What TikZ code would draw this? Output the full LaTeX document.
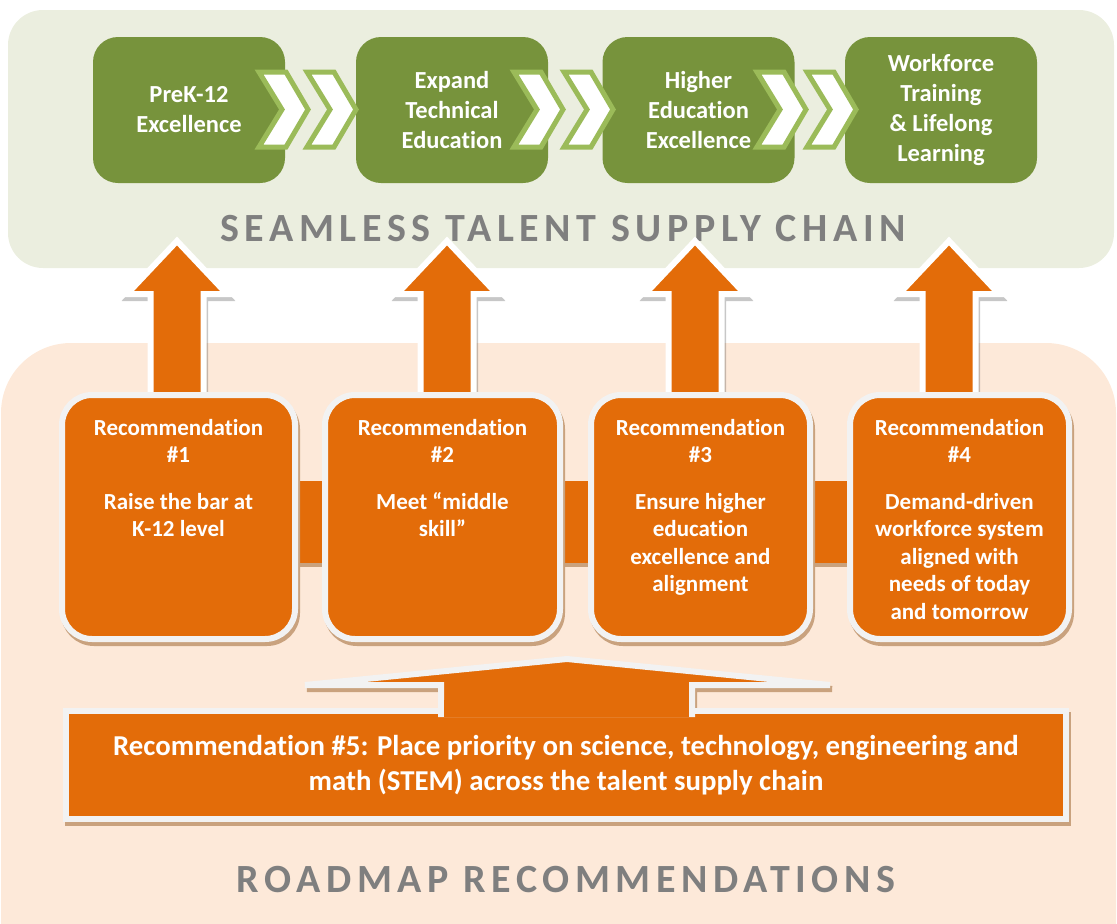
\documentclass[tikz,border=0pt]{standalone}
\usepackage{fontspec}
\setmainfont{Carlito}[Ligatures={NoCommon}]
\newfontfamily\spacedfont[LetterSpace=14,Ligatures={NoCommon}]{Carlito}
\usetikzlibrary{calc}

\definecolor{panelgreen}{HTML}{EBEEDF}
\definecolor{panelpeach}{HTML}{FDE9D9}
\definecolor{leaf}{HTML}{77933C}
\definecolor{leaflight}{HTML}{9BBB59}
\definecolor{rust}{HTML}{E36C09}
\definecolor{rim}{HTML}{F2F2F2}
\definecolor{tan}{HTML}{C9A27E}
\definecolor{slate}{HTML}{7F7F7F}

\begin{document}
\begin{tikzpicture}[x=1pt,y=-1pt,
  greenbox/.style={rounded corners=25pt, fill=leaf, text=white,
    font=\bfseries\fontsize{24.5}{30}\selectfont, align=center,
    minimum width=192pt, minimum height=146pt, inner sep=0pt},
  chev/.style={draw=leaflight, fill=white, line width=5pt, line join=miter},
  uparrow/.style={draw=white, fill=rust, line width=6pt, line join=miter},
  arrowshade/.style={draw=black, opacity=.22, line width=6pt, line join=miter},
  recbox/.style={rounded corners=30pt, draw=rim, fill=rust, line width=6pt,
    minimum height=244pt, inner sep=0pt,
    preaction={draw=tan, fill=tan, line width=6pt,
      transform canvas={xshift=2pt,yshift=-4pt}}},
  rectext/.style={text=white, font=\bfseries\fontsize{23}{27.5}\selectfont,
    align=center, inner sep=0pt, anchor=north},
  bigbox/.style={draw=rim, fill=rust, line width=6pt, inner sep=0pt,
    minimum width=1000pt, minimum height=108pt, text=white, align=center,
    font=\bfseries\fontsize{28.8}{35}\selectfont,
    preaction={draw=tan, fill=tan, line width=6pt,
      transform canvas={xshift=2pt,yshift=-4pt}}},
  paneltitle/.style={text=slate, font=\spacedfont\bfseries\fontsize{40}{40}\selectfont, inner sep=0pt}
]
\useasboundingbox (0,0) rectangle (1117,924);
\clip (0,0) rectangle (1117,924);

% background panels
\fill[panelgreen, rounded corners=35pt] (8,10) rectangle (1114,268);
\fill[panelpeach, rounded corners=70pt] (1,343) rectangle (1116,1000);

\node[paneltitle] (chaintitle) at (563,229) {SEAMLESS TALENT SUPPLY CHAIN};
\node[paneltitle] (maptitle) at (566,880) {ROADMAP RECOMMENDATIONS};

% talent supply chain stages
\node[greenbox] (g1) at (189,110) {PreK-12\\Excellence};
\node[greenbox] (g2) at (452,110) {Expand\\Technical\\Education};
\node[greenbox] (g3) at (698.5,110) {Higher\\Education\\Excellence};
\node[greenbox] (g4) at (941,110) {Workforce\\Training\\\& Lifelong\\Learning};

% double chevrons between stages
\foreach \x in {255,303,510,560,753,803}
  \draw[chev] (\x+4,72) -- (\x+31,72) -- (\x+53,109.5) -- (\x+31,147)
    -- (\x+4,147) -- (\x+27,109.5) -- cycle;

% upward arrows from each recommendation
\foreach \c in {177,447,695,949}{
  \draw[arrowshade, shift={(1.5,4)}] (\c,241) -- (\c+50,294) -- (\c+26.5,294)
    -- (\c+26.5,400) -- (\c-26.5,400) -- (\c-26.5,294) -- (\c-50,294) -- cycle;
  \draw[uparrow] (\c,241) -- (\c+50,294) -- (\c+26.5,294)
    -- (\c+26.5,400) -- (\c-26.5,400) -- (\c-26.5,294) -- (\c-50,294) -- cycle;
}

% bars linking the recommendation boxes
\foreach \a/\b in {295/325,560/591,810/850}{
  \fill[tan] (\a,485) rectangle (\b,567);
  \fill[rust] (\a,481) rectangle (\b,563);
}

% recommendation boxes
\node[recbox, minimum width=233pt] (r1) at (178.5,517) {};
\node[recbox, minimum width=235pt] (r2) at (442.5,517) {};
\node[recbox, minimum width=219pt] (r3) at (700.5,517) {};
\node[recbox, minimum width=219pt] (r4) at (959.5,517) {};

\node[rectext] (r1t) at ($(r1.north)+(0,27)$) {Recommendation\\\#1\\[19pt]Raise the bar at\\K-12 level};
\node[rectext] (r2t) at ($(r2.north)+(0,27)$) {Recommendation\\\#2\\[19pt]Meet “middle\\skill”};
\node[rectext] (r3t) at ($(r3.north)+(0,27)$) {Recommendation\\\#3\\[19pt]Ensure higher\\education\\excellence and\\alignment};
\node[rectext] (r4t) at ($(r4.north)+(0,27)$) {Recommendation\\\#4\\[19pt]Demand-driven\\workforce system\\aligned with\\needs of today\\and tomorrow};

% shadow of the wide arrow under the STEM box
\draw[draw=tan, fill=tan, line width=6pt, line join=miter, shift={(2,4)}]
  (305,685) -- (567,659) -- (830,685) -- (692,685) -- (692,714)
  -- (441,714) -- (441,685) -- cycle;

% STEM recommendation spanning the chain
\node[bigbox] (r5) at (566,765) {Recommendation \#5: Place priority on science, technology, engineering and\\math (STEM) across the talent supply chain};

\draw[draw=rim, fill=rust, line width=6pt, line join=miter]
  (305,685) -- (567,659) -- (830,685) -- (692,685) -- (692,714)
  -- (441,714) -- (441,685) -- cycle;
\fill[rust] (444,700) rectangle (689,717);
\end{tikzpicture}
\end{document}
